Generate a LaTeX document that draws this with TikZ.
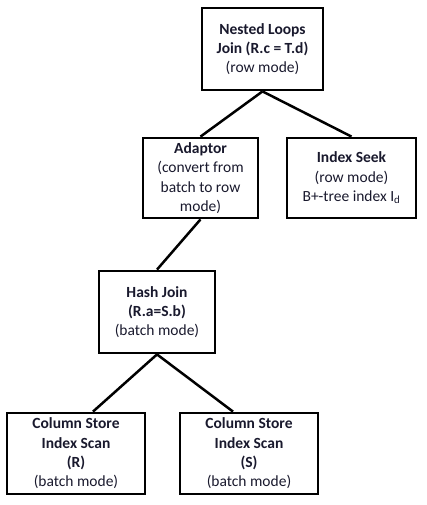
\documentclass[tikz,border=0pt]{standalone}
\usepackage{fontspec}
\setmainfont{Carlito}
\definecolor{plantext}{RGB}{25,25,45}
\tikzset{
    opbox/.style={draw, line width=2.8pt, align=center, inner sep=0pt,
        font=\fontsize{15.5}{19.3}\selectfont, text=plantext},
    edgeline/.style={line width=2.5pt}
}
\begin{document}
\begin{tikzpicture}[x=1pt, y=-1pt]

            % the frame
            \useasboundingbox (0, 0) rectangle (427, 505);

            % the operators
            \node[opbox, minimum width=121pt, minimum height=82pt] (nested) at (262.5, 49)
                {\textbf{Nested Loops}\\\textbf{Join (R.c = T.d)}\\(row mode)};
            \node[opbox, minimum width=115pt, minimum height=80pt] (adaptor) at (200.5, 178)
                {\textbf{Adaptor}\\(convert from\\batch to row\\mode)};
            \node[opbox, minimum width=129pt, minimum height=80pt] (seek) at (351.5, 178)
                {\textbf{Index Seek}\\(row mode)\\B+-tree index I\textsubscript{d}};
            \node[opbox, minimum width=116pt, minimum height=82pt] (hash) at (157, 312)
                {\textbf{Hash Join}\\\textbf{(R.a=S.b)}\\(batch mode)};
            \node[opbox, minimum width=138pt, minimum height=81pt] (scanR) at (76, 453.5)
                {\textbf{Column Store}\\\textbf{Index Scan}\\\textbf{(R)}\\(batch mode)};
            \node[opbox, minimum width=138pt, minimum height=81pt] (scanS) at (249, 453.5)
                {\textbf{Column Store}\\\textbf{Index Scan}\\\textbf{(S)}\\(batch mode)};

            % the edges
            \draw[edgeline] (nested.south) -- (adaptor.north);
            \draw[edgeline] (nested.south) -- (seek.north);
            \draw[edgeline] (adaptor.south) -- (hash.north);
            \draw[edgeline] (hash.south) -- ([xshift=17pt]scanR.north);
            \draw[edgeline] (hash.south) -- ([xshift=-16pt]scanS.north);
        \end{tikzpicture}
\end{document}
